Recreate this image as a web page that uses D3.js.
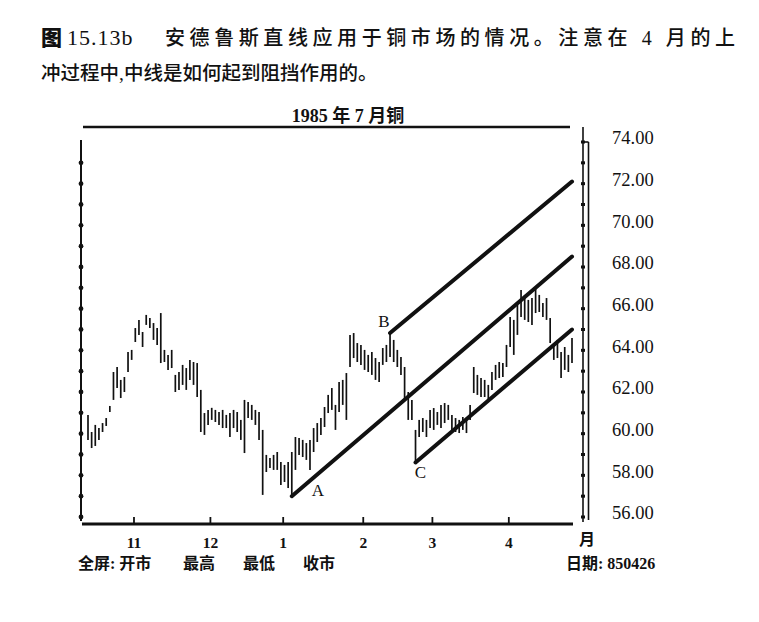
<!DOCTYPE html>
<html>
<head>
<meta charset="utf-8">
<script src="https://cdn.jsdelivr.net/npm/d3@7"></script>
<style>
  body { margin: 0; background: #fff; }
  svg { display: block; }
  text { fill: #111; }
</style>
</head>
<body>
<svg id="chart" width="759" height="622"></svg>
<script>
// daily bars, July 1985 copper, Oct 1984 .. 26 Apr 1985 (trading-day index 0..133)
const highs = [
  60.90, 60.08, 60.42, 60.27, 60.51, 60.75, 61.33, 62.96, 63.20, 62.58, 62.72, 63.92, 64.02,
  65.07, 65.46, 64.88, 65.70, 65.55, 65.31, 65.07, 65.79, 64.02, 63.78, 64.02, 62.82, 62.96, 63.30, 63.15, 63.54, 63.44, 63.39, 62.10, 60.99, 61.14,
  61.24, 61.14, 61.04, 61.14, 60.90, 60.99, 61.14, 61.04, 60.66, 61.62, 61.52, 61.38, 61.14, 61.04, 60.18, 58.98, 58.83, 58.98, 59.12, 58.64,
  58.50, 58.64, 59.12, 59.84, 59.79, 59.70, 59.55, 59.70, 60.27, 60.51, 60.75, 61.28, 61.86, 62.19, 61.38, 62.48, 62.58, 62.91, 64.74, 64.83, 64.35, 64.26,
  64.02, 63.78, 63.92, 63.63, 63.44, 64.11, 64.26, 64.83, 64.50, 64.02, 63.68, 63.20, 62.00, 61.62, 60.18, 60.66, 60.75, 60.66, 61.14,
  61.23, 61.04, 61.38, 61.47, 61.38, 60.90, 60.75, 60.66, 60.80, 60.66, 61.38, 63.20, 62.82, 62.67, 62.58, 62.34, 62.96, 63.30, 63.44, 63.39, 64.26,
  65.60, 65.46, 66.18, 66.90, 66.66, 66.42, 66.51, 67.04, 66.66, 66.27, 66.51, 65.55, 64.26, 64.50, 63.92, 64.16, 63.78, 64.59
]
const lows = [
  59.70, 59.31, 59.41, 59.70, 60.08, 60.37, 61.04, 61.62, 62.19, 61.71, 62.00, 62.96, 63.54,
  64.40, 64.74, 64.16, 65.22, 65.07, 64.50, 64.26, 63.39, 63.44, 63.06, 63.15, 62.00, 62.10, 62.34, 62.10, 62.58, 62.34, 61.76, 60.08, 59.94, 60.42,
  60.66, 60.56, 60.42, 60.27, 60.27, 59.84, 60.27, 60.08, 59.70, 59.07, 60.75, 60.66, 60.42, 59.70, 57.06, 58.16, 58.35, 58.26, 58.26, 57.54,
  57.68, 57.39, 57.00, 58.26, 58.98, 58.88, 58.74, 58.26, 59.12, 59.60, 59.94, 60.32, 60.99, 61.14, 60.18, 61.04, 61.38, 60.66, 63.20, 63.63, 63.44, 63.30,
  63.06, 62.96, 62.82, 62.58, 62.48, 63.30, 63.44, 63.68, 63.44, 63.20, 62.82, 61.62, 60.66, 60.66, 58.62, 59.84, 60.08, 59.84, 60.27,
  60.18, 60.42, 60.27, 60.51, 60.66, 60.18, 60.08, 60.03, 60.18, 60.03, 60.66, 61.95, 61.86, 61.76, 61.76, 61.62, 62.10, 62.58, 62.67, 62.72, 63.20,
  64.16, 63.78, 64.74, 65.60, 65.46, 65.36, 65.22, 65.79, 65.84, 65.60, 65.46, 64.35, 63.54, 63.63, 62.67, 63.06, 62.96, 63.39
]

// month boundaries (between bars) and their labels
const monthTicks = [12.5, 33.5, 53.5, 75.5, 94.5, 115.5]
const monthLabels = ['11', '12', '1', '2', '3', '4']
const priceTicks = [56, 58, 60, 62, 64, 66, 68, 70, 72, 74]
const priceDots = d3.range(56, 75)

// Andrews pitchfork: pivots A, B, C and the three drawn lines [index, price]
const pivots = [
  { name: 'A', at: [56, 57.0] },
  { name: 'B', at: [83, 64.83] },
  { name: 'C', at: [90, 58.62] }
]
const forkLines = [
  [[56, 57.0], [133, 68.5]],
  [[83, 64.83], [133, 72.1]],
  [[90, 58.62], [133, 65.0]]
]

const footLeft = [
  { text: '全屏: 开市', x: 78 },
  { text: '最高', x: 183 },
  { text: '最低', x: 243 },
  { text: '收市', x: 303 }
]

const serif = "'Liberation Serif', 'Noto Sans CJK SC', serif"
const svg = d3.select('#chart')

const x = d3.scaleLinear().domain([0, highs.length - 1]).range([88, 572])
const y = d3.scaleLinear().domain([56, 74]).range([517, 142])

// caption
svg.append('text')
  .attr('x', 41).attr('y', 45)
  .attr('font-family', serif).attr('font-size', 21).attr('font-weight', 900)
  .text('图')
svg.append('text')
  .attr('x', 67).attr('y', 45)
  .attr('font-family', serif).attr('font-size', 22).attr('letter-spacing', 1)
  .text('15.13b')
svg.append('text')
  .attr('x', 165).attr('y', 45)
  .attr('font-family', serif).attr('font-size', 20).attr('font-weight', 500)
  .attr('textLength', 570).attr('lengthAdjust', 'spacing')
  .text('安德鲁斯直线应用于铜市场的情况。注意在 4 月的上')

svg.append('text')
  .attr('x', 41).attr('y', 80)
  .attr('font-family', serif).attr('font-size', 19.5).attr('font-weight', 500)
  .text('冲过程中,中线是如何起到阻挡作用的。')

svg.append('text')
  .attr('x', 348).attr('y', 122)
  .attr('text-anchor', 'middle')
  .attr('font-family', serif).attr('font-size', 18).attr('font-weight', 'bold')
  .text('1985 年 7 月铜')

// frame
svg.append('line')
  .attr('x1', 83).attr('x2', 570).attr('y1', 127).attr('y2', 127)
  .attr('stroke', '#111').attr('stroke-width', 2.5)

svg.append('line')
  .attr('x1', 81).attr('x2', 81).attr('y1', 140).attr('y2', 521)
  .attr('stroke', '#111').attr('stroke-width', 2)
svg.append('g').selectAll('circle')
  .data(priceDots.filter(d => d < 74))
  .enter()
  .append('circle')
  .attr('cx', 81).attr('cy', d => y(d)).attr('r', 2.4)
  .attr('fill', '#111')

// right price axis: double rail with unit marks
const rightX = 583
svg.append('line')
  .attr('x1', rightX).attr('x2', rightX).attr('y1', 127).attr('y2', 522)
  .attr('stroke', '#111').attr('stroke-width', 1.6)
svg.append('line')
  .attr('x1', rightX + 5.5).attr('x2', rightX + 5.5).attr('y1', y(74)).attr('y2', 520)
  .attr('stroke', '#111').attr('stroke-width', 1.6)
svg.append('line')
  .attr('x1', rightX).attr('x2', rightX + 5.5).attr('y1', y(74)).attr('y2', y(74))
  .attr('stroke', '#111').attr('stroke-width', 1.6)
svg.append('g').selectAll('rect')
  .data(priceDots)
  .enter()
  .append('rect')
  .attr('x', rightX - 2).attr('y', d => y(d) - 1.5)
  .attr('width', 4).attr('height', 3)
  .attr('fill', '#111')

const rightAxis = svg.append('g')
  .attr('transform', `translate(${rightX},0)`)
  .call(d3.axisRight(y).tickValues(priceTicks).tickSize(0).tickPadding(29).tickFormat(d3.format('.2f')))
rightAxis.select('.domain').remove()
rightAxis.selectAll('text')
  .attr('font-family', serif).attr('font-size', 18.5).attr('fill', '#111')
  .attr('dy', '0.1em')

// time axis
const bottomAxis = svg.append('g')
  .attr('transform', 'translate(0,524)')
  .call(d3.axisBottom(x).tickValues(monthTicks).tickSize(-7).tickPadding(13)
    .tickFormat((d, i) => monthLabels[i]))
bottomAxis.select('.domain')
  .attr('d', 'M82,0H573')
  .attr('stroke', '#111').attr('stroke-width', 3)
bottomAxis.selectAll('.tick line').attr('stroke', '#111').attr('stroke-width', 1.8)
bottomAxis.selectAll('text')
  .attr('font-family', serif).attr('font-size', 15.5).attr('font-weight', 'bold').attr('fill', '#111')

svg.append('text')
  .attr('x', 587).attr('y', 545)
  .attr('text-anchor', 'middle')
  .attr('font-family', serif).attr('font-size', 16).attr('font-weight', 'bold')
  .text('月')

// price bars
svg.append('g').selectAll('line')
  .data(highs)
  .enter()
  .append('line')
  .attr('x1', (d, i) => x(i)).attr('x2', (d, i) => x(i))
  .attr('y1', d => y(d))
  .attr('y2', (d, i) => y(lows[i]))
  .attr('stroke', '#111').attr('stroke-width', 1.7)

// pitchfork
svg.append('g').selectAll('line')
  .data(forkLines)
  .enter()
  .append('line')
  .attr('x1', d => x(d[0][0])).attr('y1', d => y(d[0][1]))
  .attr('x2', d => x(d[1][0])).attr('y2', d => y(d[1][1]))
  .attr('stroke', '#111').attr('stroke-width', 4).attr('stroke-linecap', 'round')

const pivotOffset = { A: [26, 0], B: [-6, -6], C: [5, 16] }
svg.append('g').selectAll('text')
  .data(pivots)
  .enter()
  .append('text')
  .attr('x', d => x(d.at[0]) + pivotOffset[d.name][0])
  .attr('y', d => y(d.at[1]) + pivotOffset[d.name][1])
  .attr('text-anchor', 'middle')
  .attr('font-family', serif).attr('font-size', 17)
  .text(d => d.name)

// footer
svg.append('g').selectAll('text')
  .data(footLeft)
  .enter()
  .append('text')
  .attr('x', d => d.x).attr('y', 569)
  .attr('font-family', serif).attr('font-size', 16).attr('font-weight', 'bold')
  .text(d => d.text)

svg.append('text')
  .attr('x', 566).attr('y', 569)
  .attr('font-family', serif).attr('font-size', 16).attr('font-weight', 'bold')
  .text('日期: 850426')
</script>
</body>
</html>
